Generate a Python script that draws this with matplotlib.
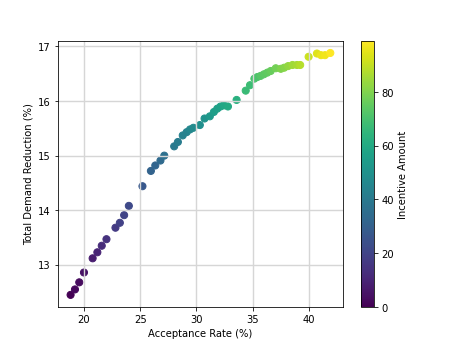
import matplotlib
matplotlib.use('Agg')
from matplotlib import pyplot as plt

acceptance = [18.81, 19.20, 19.58, 20.00, 20.77, 21.19, 21.58, 22.00, 22.80, 23.19,
              23.57, 23.99, 25.20, 25.95, 26.34, 26.80, 27.14, 28.02, 28.35, 28.78,
              29.13, 29.43, 29.73, 30.30, 30.72, 31.19, 31.55, 31.85, 32.14, 32.44,
              32.80, 33.57, 34.38, 34.76, 35.15, 35.42, 35.70, 36.00, 36.30, 36.60,
              37.05, 37.50, 37.80, 38.15, 38.54, 38.93, 39.22, 39.97, 40.71, 41.07,
              41.43, 41.90]
reduction = [12.45, 12.55, 12.68, 12.86, 13.12, 13.23, 13.35, 13.47, 13.68, 13.77,
             13.91, 14.08, 14.44, 14.72, 14.82, 14.91, 15.00, 15.17, 15.25, 15.37,
             15.43, 15.48, 15.51, 15.56, 15.68, 15.72, 15.80, 15.86, 15.90, 15.92,
             15.90, 16.02, 16.19, 16.29, 16.41, 16.44, 16.46, 16.49, 16.52, 16.55,
             16.60, 16.59, 16.61, 16.64, 16.66, 16.66, 16.66, 16.81, 16.87, 16.84,
             16.84, 16.88]
incentive = [0, 2, 3, 5, 8, 10, 12, 14, 17, 19,
             20, 22, 27, 31, 32, 34, 36, 40, 41, 43,
             44, 46, 47, 49, 51, 53, 55, 56, 57, 59,
             60, 63, 67, 68, 70, 71, 73, 74, 75, 76,
             78, 80, 81, 83, 85, 86, 88, 91, 94, 96,
             97, 99]

if __name__ == '__main__':
    fig = plt.figure(figsize=(6.4, 4.8), dpi=72)
    sc = plt.scatter(acceptance, reduction, c=incentive, cmap='viridis', s=50)
    cbar = plt.colorbar(sc)
    cbar.set_label('Incentive Amount')
    plt.xlabel('Acceptance Rate (%)')
    plt.ylabel('Total Demand Reduction (%)')
    plt.grid(True, color='#d6d6d6', linewidth=1.4)
    fig.savefig('out.png', dpi=72)
